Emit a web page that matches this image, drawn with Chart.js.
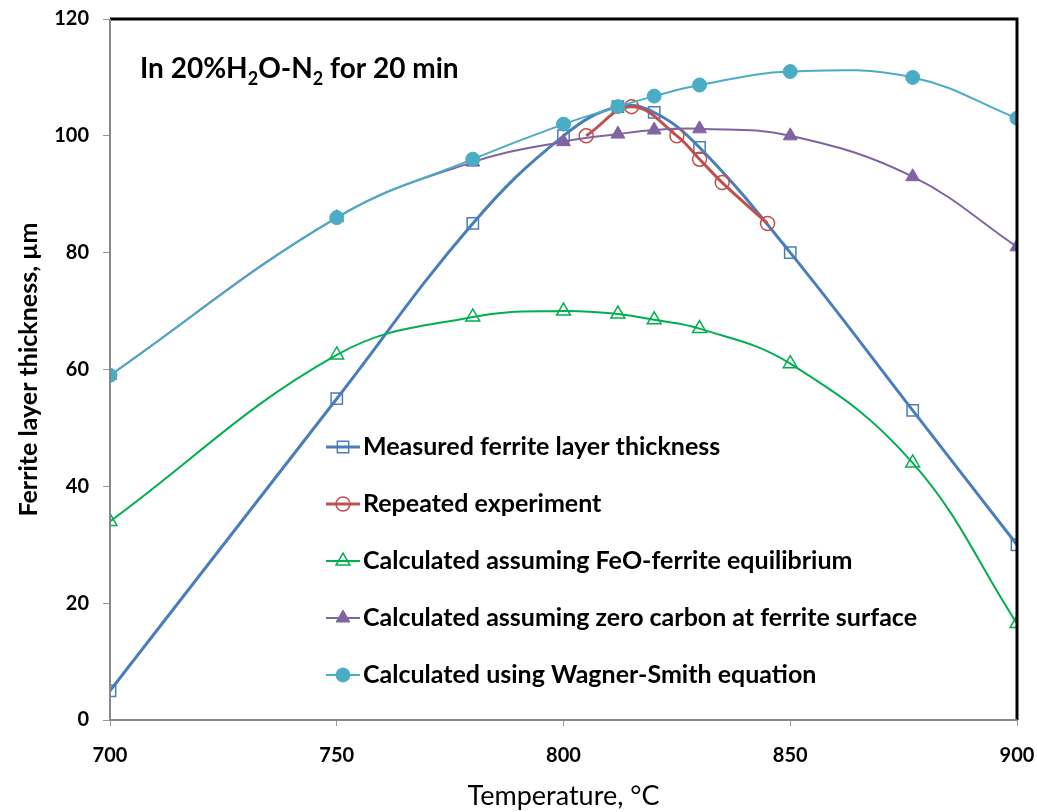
<!DOCTYPE html>
<html>
<head>
<meta charset="utf-8">
<script src="https://cdn.jsdelivr.net/npm/chart.js@4/dist/chart.umd.min.js"></script>
<style>
  body { margin: 0; background: #fff; }
  #wrap { width: 1037px; height: 812px; }
</style>
</head>
<body>
<div id="wrap"><canvas id="myChart" width="1037" height="812"></canvas></div>
<script>
// data
var temp_misurate = [700, 750, 780, 800, 812, 820, 830, 850, 877, 900];
var spessore_misurato = [5, 55, 85, 100, 105, 104, 98, 80, 53, 30];

var temp_ripetuto = [805, 815, 825, 830, 835, 845];
var spessore_ripetuto = [100, 105, 100, 96, 92, 85];

var temp_calcolo = [700, 750, 780, 800, 812, 820, 830, 850, 877, 900];
var feo_ferrite = [34, 62.5, 69, 70, 69.5, 68.5, 67, 61, 44, 16.5];
var zero_carbonio = [59, 86, 95.5, 99, 100.3, 101, 101.2, 100, 93, 81];
var wagner_smith = [59, 86, 96, 102, 105, 106.8, 108.7, 111, 110, 103];

var etichette = [
  'Measured ferrite layer thickness',
  'Repeated experiment',
  'Calculated assuming FeO-ferrite equilibrium',
  'Calculated assuming zero carbon at ferrite surface',
  'Calculated using Wagner-Smith equation'
];

function punti(xs, ys) {
  var out = [];
  for (var i = 0; i < xs.length; i++) {
    out.push({ x: xs[i], y: ys[i] });
  }
  return out;
}

var FONT = 'Lato, "Open Sans", sans-serif';

// legend inside the plot + annotation text
var legendaInterna = {
  id: 'legendaInterna',
  afterDraw: function (chart) {
    var ctx = chart.ctx;
    var area = chart.chartArea;
    ctx.save();

    // frame: thick black top/right, grey left/bottom
    ctx.lineWidth = 3;
    ctx.strokeStyle = '#000';
    ctx.beginPath();
    ctx.moveTo(area.left, area.top);
    ctx.lineTo(area.right, area.top);
    ctx.lineTo(area.right, area.bottom);
    ctx.stroke();
    ctx.lineWidth = 2;
    ctx.strokeStyle = '#888';
    ctx.beginPath();
    ctx.moveTo(area.left, area.top);
    ctx.lineTo(area.left, area.bottom);
    ctx.lineTo(area.right, area.bottom);
    ctx.stroke();

    // annotation
    ctx.fillStyle = '#000';
    ctx.textBaseline = 'alphabetic';
    ctx.textAlign = 'left';
    var x = area.left + 30;
    var y = area.top + 59;
    var big = 'bold 28px ' + FONT;
    var small = 'bold 18px ' + FONT;
    var pezzi = [['In 20%H', big, 0], ['2', small, 7], ['O-N', big, 0], ['2', small, 7], [' for 20 min', big, 0]];
    for (var i = 0; i < pezzi.length; i++) {
      ctx.font = pezzi[i][1];
      ctx.fillText(pezzi[i][0], x, y + pezzi[i][2]);
      x += ctx.measureText(pezzi[i][0]).width;
    }

    // legend
    var lx = area.left + 216;
    var ly = area.top + 428;
    for (var j = 0; j < chart.data.datasets.length; j++) {
      var ds = chart.data.datasets[j];
      var yy = ly + j * 57;
      ctx.strokeStyle = ds.borderColor;
      ctx.lineWidth = ds.borderWidth;
      ctx.beginPath();
      ctx.moveTo(lx, yy);
      ctx.lineTo(lx + 34, yy);
      ctx.stroke();
      ctx.strokeStyle = ds.pointBorderColor;
      ctx.fillStyle = ds.pointBackgroundColor;
      ctx.lineWidth = ds.pointBorderWidth;
      Chart.helpers.drawPoint(ctx, {
        pointStyle: ds.pointStyle,
        radius: ds.pointRadius,
        rotation: 0,
        borderWidth: ds.pointBorderWidth
      }, lx + 17, yy);
      ctx.fillStyle = '#000';
      ctx.font = 'bold 25px ' + FONT;
      ctx.textBaseline = 'middle';
      ctx.fillText(etichette[j], lx + 37, yy);
    }
    ctx.restore();
  }
};

// GRAPH SETTINGS
var ctx = document.getElementById('myChart').getContext('2d');
var myChart = new Chart(ctx, {
  type: 'line',
  data: {
    datasets: [{
      label: etichette[0],
      data: punti(temp_misurate, spessore_misurato),
      borderColor: '#4A7EBB',
      borderWidth: 3,
      pointStyle: 'rect',
      pointRadius: 8,
      pointBorderWidth: 1.5,
      pointBorderColor: '#4A7EBB',
      pointBackgroundColor: 'rgba(0,0,0,0)',
      tension: 0.4,
      order: 4
    }, {
      label: etichette[1],
      data: punti(temp_ripetuto, spessore_ripetuto),
      borderColor: '#C0504D',
      borderWidth: 3,
      pointStyle: 'circle',
      pointRadius: 7,
      pointBorderWidth: 1.5,
      pointBorderColor: '#C0504D',
      pointBackgroundColor: 'rgba(0,0,0,0)',
      tension: 0.4,
      order: 3
    }, {
      label: etichette[2],
      data: punti(temp_calcolo, feo_ferrite),
      borderColor: '#00B050',
      borderWidth: 2,
      pointStyle: 'triangle',
      pointRadius: 8,
      pointBorderWidth: 1.5,
      pointBorderColor: '#00B050',
      pointBackgroundColor: 'rgba(0,0,0,0)',
      tension: 0.4,
      order: 2
    }, {
      label: etichette[3],
      data: punti(temp_calcolo, zero_carbonio),
      borderColor: '#8064A2',
      borderWidth: 2,
      pointStyle: 'triangle',
      pointRadius: 8,
      pointBorderWidth: 1,
      pointBorderColor: '#8064A2',
      pointBackgroundColor: '#8064A2',
      tension: 0.4,
      order: 1
    }, {
      label: etichette[4],
      data: punti(temp_calcolo, wagner_smith),
      borderColor: '#4BACC6',
      borderWidth: 2,
      pointStyle: 'circle',
      pointRadius: 7,
      pointBorderWidth: 1,
      pointBorderColor: '#4BACC6',
      pointBackgroundColor: '#4BACC6',
      tension: 0.4,
      order: 0
    }]
  },
  options: {
    responsive: false,
    animation: false,
    layout: { padding: { top: 19, right: 20, left: 0, bottom: 0 } },
    plugins: {
      legend: { display: false },
      tooltip: { enabled: false }
    },
    scales: {
      x: {
        type: 'linear',
        min: 700,
        max: 900,
        ticks: {
          stepSize: 50,
          padding: 18,
          color: '#000',
          font: { family: FONT, size: 20, weight: 'bold' }
        },
        grid: { drawOnChartArea: false, tickLength: 6, color: '#999' },
        border: { display: false },
        title: {
          display: true,
          text: 'Temperature, °C',
          color: '#000',
          padding: { top: 4, bottom: 0 },
          font: { family: FONT, size: 27 }
        },
        afterFit: function (scale) {
          scale.height = 92;
          scale.paddingLeft = 0;
          scale.paddingRight = 0;
        }
      },
      y: {
        min: 0,
        max: 120,
        ticks: {
          stepSize: 20,
          padding: 14,
          color: '#000',
          font: { family: FONT, size: 20, weight: 'bold' }
        },
        grid: { drawOnChartArea: false, tickLength: 7, color: '#999' },
        border: { display: false },
        title: {
          display: true,
          text: 'Ferrite layer thickness, µm',
          color: '#000',
          padding: { top: 14, bottom: 4 },
          font: { family: FONT, size: 25, weight: 'bold' }
        },
        afterFit: function (scale) {
          scale.width = 110;
          scale.paddingTop = 0;
          scale.paddingBottom = 0;
        }
      }
    }
  },
  plugins: [legendaInterna]
});
</script>
</body>
</html>
